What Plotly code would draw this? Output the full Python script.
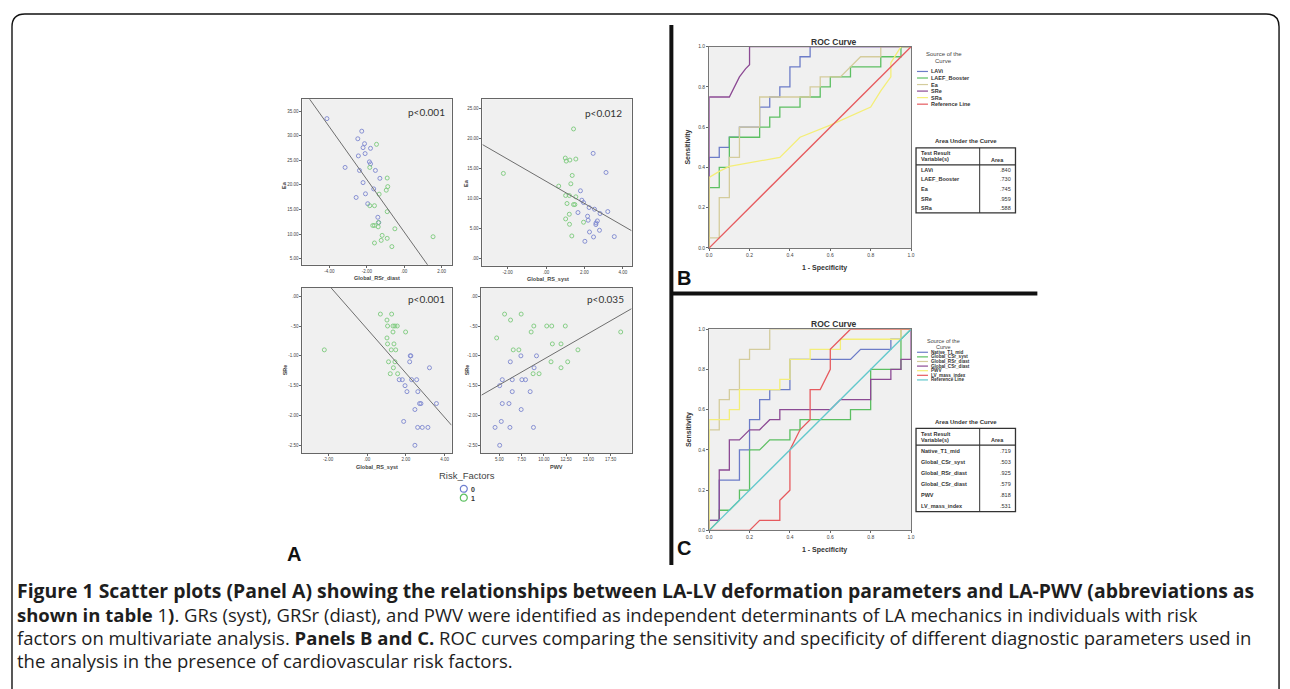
import plotly.graph_objects as go

# The page body has an 8px margin; coordinates below are reference-picture pixels.
OFF = 8
W, H = 1290 - OFF, 689 - OFF

# ---------------- Panel A data ----------------
tl_blue_x = [-4.13, -2.27, -2.48, -2.12, -2.20, -1.80, -2.09, -2.45, -1.86, -1.80, -3.16, -2.39, -1.54, -1.30, -2.20, -1.63, -2.07, -2.57, -1.95, -1.41, -1.36]
tl_blue_y = [33.46, 30.91, 29.37, 28.37, 27.57, 27.43, 26.36, 25.89, 24.68, 24.28, 23.55, 22.94, 22.94, 21.34, 20.47, 19.19, 18.19, 17.45, 16.18, 13.43, 12.36]
tl_green_x = [-1.48, -1.84, -0.91, -0.88, -0.96, -1.34, -1.84, -1.59, -0.91, -1.38, -1.68, -1.59, -1.39, -0.50, -1.18, 1.54, -0.91, -1.23, -1.59, -0.66]
tl_green_y = [28.24, 23.55, 21.40, 19.66, 18.93, 18.12, 15.78, 15.78, 14.57, 12.36, 11.76, 11.76, 11.49, 11.09, 9.75, 9.48, 9.15, 8.74, 8.21, 7.47]

tr_green_x = [1.43, 1.00, 1.05, 1.24, 1.55, -2.22, 1.36, 1.29, 0.66, 1.02, 1.21, 1.55, 1.09, 1.43, 1.50, 1.21, 1.02, 1.22, 1.95, 1.34]
tr_green_y = [21.56, 16.72, 16.22, 16.39, 16.56, 14.17, 13.83, 12.44, 12.06, 10.50, 10.50, 10.28, 9.17, 9.00, 9.00, 7.39, 6.61, 5.72, 6.06, 3.78]
tr_blue_x = [2.45, 3.12, 1.79, 1.86, 1.95, 2.24, 2.52, 3.21, 1.66, 2.81, 2.16, 2.19, 2.67, 2.60, 2.59, 2.78, 2.26, 2.47, 3.55, 2.02]
tr_blue_y = [17.50, 14.33, 11.28, 9.72, 9.33, 8.50, 8.22, 7.83, 7.67, 7.50, 7.06, 6.39, 6.28, 5.94, 5.67, 4.72, 4.44, 3.61, 3.67, 2.89]

bl_green_x = [0.69, 1.27, 1.03, 1.06, 1.34, 1.44, 1.56, 1.34, 1.99, 1.03, 1.06, 1.39, 1.25, 1.48, -2.20, 1.11, 1.44, 1.36, 1.20, 1.58]
bl_green_y = [-0.30, -0.30, -0.40, -0.50, -0.50, -0.50, -0.50, -0.60, -0.60, -0.70, -0.80, -0.80, -0.90, -0.90, -0.90, -1.10, -1.10, -1.20, -1.30, -1.30]
bl_blue_x = [2.23, 2.26, 2.20, 3.22, 1.66, 1.82, 2.30, 2.56, 1.96, 2.06, 2.62, 2.71, 2.78, 3.58, 2.47, 1.89, 2.61, 2.85, 3.14, 2.47]
bl_blue_y = [-1.00, -1.00, -1.10, -1.20, -1.40, -1.40, -1.40, -1.40, -1.50, -1.60, -1.60, -1.80, -1.80, -1.80, -1.90, -2.10, -2.20, -2.20, -2.20, -2.50]

br_green_x = [5.59, 7.45, 6.26, 4.70, 8.87, 10.32, 10.88, 12.40, 8.57, 18.62, 10.95, 11.92, 6.56, 7.19, 13.82, 10.80, 12.67, 11.92, 8.79, 9.46]
br_green_y = [-0.30, -0.30, -0.40, -0.70, -0.50, -0.50, -0.50, -0.50, -0.60, -0.60, -0.80, -0.80, -0.90, -0.90, -0.90, -1.10, -1.10, -1.20, -1.30, -1.30]
br_blue_x = [7.42, 9.17, 6.23, 8.90, 5.33, 6.45, 7.53, 7.94, 5.04, 6.45, 8.46, 5.33, 6.08, 7.45, 5.22, 4.52, 6.19, 8.83, 5.04]
br_blue_y = [-1.00, -1.00, -1.10, -1.20, -1.40, -1.40, -1.40, -1.40, -1.50, -1.60, -1.60, -1.80, -1.80, -1.90, -2.10, -2.20, -2.20, -2.20, -2.50]

# fit lines: (intercept, slope)
tl_fit = (10.43, -5.34)
tr_fit = (12.86, -1.845)
bl_fit = (-0.547, -0.371)
br_fit = (-1.917, 0.0861)

p_labels = ["p<0.001", "p<0.012", "p<0.001", "p<0.035"]
x_titles = ["Global_RSr_diast", "Global_RS_syst", "Global_RS_syst", "PWV"]
y_titles = ["Ea", "Ea", "SRe", "SRe"]

tl_xticks = [-4, -2, 0, 2]
tl_xtext = ["-4.00", "-2.00", ".00", "2.00"]
tl_yticks = [5, 10, 15, 20, 25, 30, 35]
tl_ytext = ["5.00", "10.00", "15.00", "20.00", "25.00", "30.00", "35.00"]
rs_xticks = [-2, 0, 2, 4]
rs_xtext = ["-2.00", ".00", "2.00", "4.00"]
tr_yticks = [0, 5, 10, 15, 20, 25]
tr_ytext = [".00", "5.00", "10.00", "15.00", "20.00", "25.00"]
sre_yticks = [0, -0.5, -1.0, -1.5, -2.0, -2.5]
sre_ytext = [".00", "-.50", "-1.00", "-1.50", "-2.00", "-2.50"]
pwv_xticks = [5, 7.5, 10, 12.5, 15, 17.5]
pwv_xtext = ["5.00", "7.50", "10.00", "12.50", "15.00", "17.50"]

# ---------------- ROC data ----------------
roc_ticks = [0, 0.2, 0.4, 0.6, 0.8, 1.0]
roc_ticktext = ["0.0", "0.2", "0.4", "0.6", "0.8", "1.0"]

b_names = ["LAVi", "LAEF_Booster", "Ea", "SRe", "SRa", "Reference Line"]
b_auc = [".840", ".730", ".745", ".959", ".588"]
b_lavi_x = [0, 0, 0.05, 0.05, 0.1, 0.1, 0.15, 0.15, 0.25, 0.25, 0.3, 0.3, 0.35, 0.35, 0.4, 0.4, 0.45, 0.45, 0.5, 0.5, 1.0]
b_lavi_y = [0, 0.45, 0.45, 0.5, 0.5, 0.55, 0.55, 0.6, 0.6, 0.7, 0.7, 0.75, 0.75, 0.8, 0.8, 0.9, 0.9, 0.95, 0.95, 1.0, 1.0]
b_laef_x = [0, 0, 0.05, 0.05, 0.1, 0.1, 0.25, 0.25, 0.3, 0.3, 0.35, 0.35, 0.45, 0.45, 0.55, 0.55, 0.6, 0.6, 0.7, 0.7, 0.85, 0.85, 0.95, 0.95, 1.0]
b_laef_y = [0, 0.3, 0.3, 0.4, 0.4, 0.55, 0.55, 0.6, 0.6, 0.65, 0.65, 0.7, 0.7, 0.75, 0.75, 0.8, 0.8, 0.85, 0.85, 0.9, 0.9, 0.95, 0.95, 1.0, 1.0]
b_ea_x = [0, 0, 0.05, 0.05, 0.1, 0.1, 0.15, 0.15, 0.25, 0.25, 0.5, 0.5, 0.55, 0.55, 0.65, 0.7, 0.75, 0.85, 0.85, 1.0]
b_ea_y = [0, 0.05, 0.05, 0.25, 0.25, 0.45, 0.45, 0.6, 0.6, 0.75, 0.75, 0.8, 0.8, 0.85, 0.85, 0.9, 0.95, 0.95, 1.0, 1.0]
b_sre_x = [0, 0, 0.1, 0.15, 0.18, 0.2, 0.2, 1.0]
b_sre_y = [0, 0.75, 0.75, 0.85, 0.89, 0.91, 1.0, 1.0]
b_sra_x = [0, 0, 0.05, 0.1, 0.35, 0.45, 0.6, 0.8, 0.85, 0.9, 0.9, 0.95, 1.0]
b_sra_y = [0, 0.35, 0.38, 0.405, 0.45, 0.55, 0.61, 0.7, 0.78, 0.85, 0.92, 1.0, 1.0]
ref_x = [0, 1]
ref_y = [0, 1]

c_names = ["Native_T1_mid", "Global_CSr_syst", "Global_RSr_diast", "Global_CSr_diast", "PWV", "LV_mass_index", "Reference Line"]
c_auc = [".719", ".503", ".925", ".579", ".818", ".531"]
c_t1_x = [0, 0, 0.05, 0.05, 0.15, 0.15, 0.2, 0.2, 0.25, 0.25, 0.3, 0.3, 0.4, 0.4, 0.7, 0.75, 0.9, 0.9, 0.95, 0.95, 1.0]
c_t1_y = [0, 0.05, 0.05, 0.25, 0.25, 0.4, 0.4, 0.55, 0.55, 0.65, 0.65, 0.7, 0.7, 0.85, 0.85, 0.9, 0.9, 0.95, 0.95, 1.0, 1.0]
c_csys_x = [0, 0.05, 0.05, 0.1, 0.15, 0.15, 0.2, 0.2, 0.25, 0.3, 0.4, 0.4, 0.45, 0.45, 0.7, 0.7, 0.8, 0.8, 0.95, 0.95, 1.0]
c_csys_y = [0, 0.05, 0.1, 0.1, 0.15, 0.2, 0.2, 0.4, 0.4, 0.45, 0.45, 0.5, 0.5, 0.55, 0.55, 0.6, 0.6, 0.8, 0.8, 0.95, 1.0]
c_rsr_x = [0, 0, 0.05, 0.05, 0.1, 0.1, 0.15, 0.15, 0.2, 0.2, 0.3, 0.3, 1.0]
c_rsr_y = [0, 0.5, 0.5, 0.65, 0.65, 0.7, 0.7, 0.85, 0.85, 0.9, 0.9, 1.0, 1.0]
c_cdia_x = [0, 0, 0.05, 0.05, 0.1, 0.1, 0.15, 0.2, 0.25, 0.3, 0.35, 0.35, 0.6, 0.65, 0.8, 0.8, 0.9, 0.9, 0.95, 0.95, 1.0, 1.0]
c_cdia_y = [0, 0.05, 0.05, 0.3, 0.3, 0.45, 0.45, 0.5, 0.5, 0.55, 0.55, 0.6, 0.6, 0.65, 0.65, 0.75, 0.75, 0.8, 0.8, 0.85, 0.85, 1.0]
c_pwv_x = [0, 0, 0.1, 0.1, 0.15, 0.15, 0.35, 0.35, 0.4, 0.4, 0.5, 0.5, 0.65, 0.65, 0.95, 0.95, 1.0]
c_pwv_y = [0, 0.55, 0.55, 0.6, 0.6, 0.7, 0.7, 0.75, 0.75, 0.85, 0.85, 0.9, 0.9, 0.95, 0.95, 1.0, 1.0]
c_lvm_x = [0, 0.2, 0.25, 0.35, 0.35, 0.4, 0.4, 0.45, 0.5, 0.5, 0.55, 0.6, 0.6, 0.65, 0.7, 1.0]
c_lvm_y = [0, 0, 0.05, 0.05, 0.15, 0.2, 0.4, 0.5, 0.55, 0.7, 0.7, 0.8, 0.9, 0.95, 1.0, 1.0]

caption_lines = [
    "<b>Figure 1 Scatter plots (Panel A) showing the relationships between LA-LV deformation parameters and LA-PWV (abbreviations as</b>",
    "<b>shown in table</b> 1<b>)</b>. GRs (syst), GRSr (diast), and PWV were identified as independent determinants of LA mechanics in individuals with risk",
    "factors on multivariate analysis. <b>Panels B and C.</b> ROC curves comparing the sensitivity and specificity of different diagnostic parameters used in",
    "the analysis in the presence of cardiovascular risk factors.",
]

# ---------------- colours ----------------
C_BLUE_PT = "#7d87cf"
C_GREEN_PT = "#7cc97c"
SP_BLUE = "#6c7cc8"
SP_GREEN = "#5cbf62"
SP_BEIGE = "#d4cc9c"
SP_PURPLE = "#8c4a94"
SP_YELLOW = "#f4ee78"
SP_RED = "#e65a5e"
SP_CYAN = "#62c8cc"


def PX(x):
    return (x - OFF) / W


def PY(y):
    return 1 - (y - OFF) / H


fig = go.Figure()
annotations = []
shapes = []


def txt(x, y, s, size, color="#333", family="Liberation Sans", xanchor="left", yanchor="middle", angle=0):
    annotations.append(dict(x=PX(x), y=PY(y), xref="paper", yref="paper", text=s, showarrow=False,
                            font=dict(size=size, color=color, family=family), xanchor=xanchor,
                            yanchor=yanchor, textangle=angle))


def line(x0, y0, x1, y1, color="black", width=1):
    shapes.append(dict(type="line", xref="paper", yref="paper", x0=PX(x0), y0=PY(y0), x1=PX(x1), y1=PY(y1),
                       line=dict(color=color, width=width)))


# ---------------- scatter panels ----------------
scatter_panels = [
    ("x", "y", tl_blue_x, tl_blue_y, tl_green_x, tl_green_y, tl_fit),
    ("x2", "y2", tr_blue_x, tr_blue_y, tr_green_x, tr_green_y, tr_fit),
    ("x3", "y3", bl_blue_x, bl_blue_y, bl_green_x, bl_green_y, bl_fit),
    ("x4", "y4", br_blue_x, br_blue_y, br_green_x, br_green_y, br_fit),
]
x_ranges = [[-5.44, 2.53], [-3.31, 4.45], [-3.33, 4.36], [2.99, 19.84]]
y_ranges = [[3.79, 37.4], [-1.17, 26.5], [-2.63, 0.145], [-2.63, 0.145]]
boxes = [(301, 451, 97, 264), (482, 632, 97, 265), (301, 451, 287, 454), (481, 632, 287, 454)]
xtick_sets = [(tl_xticks, tl_xtext), (rs_xticks, rs_xtext), (rs_xticks, rs_xtext), (pwv_xticks, pwv_xtext)]
ytick_sets = [(tl_yticks, tl_ytext), (tr_yticks, tr_ytext), (sre_yticks, sre_ytext), (sre_yticks, sre_ytext)]

for i, (xa, ya, bx, by, gx, gy, fit) in enumerate(scatter_panels):
    fig.add_trace(go.Scatter(x=bx, y=by, xaxis=xa, yaxis=ya, mode="markers", showlegend=False,
                             marker=dict(symbol="circle-open", size=4, color=C_BLUE_PT, line=dict(width=0.9))))
    fig.add_trace(go.Scatter(x=gx, y=gy, xaxis=xa, yaxis=ya, mode="markers", showlegend=False,
                             marker=dict(symbol="circle-open", size=4, color=C_GREEN_PT, line=dict(width=0.9))))
    xr = x_ranges[i]
    fx = [xr[0], xr[1]]
    fy = [fit[0] + fit[1] * v for v in fx]
    fig.add_trace(go.Scatter(x=fx, y=fy, xaxis=xa, yaxis=ya, mode="lines", showlegend=False,
                             line=dict(color="#6e6e6e", width=1)))

# ---------------- ROC panels ----------------
roc_b = [(b_lavi_x, b_lavi_y, SP_BLUE), (b_laef_x, b_laef_y, SP_GREEN), (b_ea_x, b_ea_y, SP_BEIGE),
         (b_sre_x, b_sre_y, SP_PURPLE), (b_sra_x, b_sra_y, SP_YELLOW), (ref_x, ref_y, SP_RED)]
roc_c = [(c_t1_x, c_t1_y, SP_BLUE), (c_csys_x, c_csys_y, SP_GREEN), (c_rsr_x, c_rsr_y, SP_BEIGE),
         (c_cdia_x, c_cdia_y, SP_PURPLE), (c_pwv_x, c_pwv_y, SP_YELLOW), (c_lvm_x, c_lvm_y, SP_RED),
         (ref_x, ref_y, SP_CYAN)]
for (xs, ys, col) in roc_b:
    fig.add_trace(go.Scatter(x=xs, y=ys, xaxis="x5", yaxis="y5", mode="lines", showlegend=False,
                             line=dict(color=col, width=1.3)))
for (xs, ys, col) in roc_c:
    fig.add_trace(go.Scatter(x=xs, y=ys, xaxis="x6", yaxis="y6", mode="lines", showlegend=False,
                             line=dict(color=col, width=1.3)))

axis_common = dict(showgrid=False, zeroline=False, showline=True, mirror=True, linecolor="#666",
                   linewidth=1, ticks="outside", ticklen=2, tickwidth=1, tickcolor="#666",
                   tickfont=dict(size=4.5, color="#444", family="Liberation Sans"))
layout_axes = {}
names = [("xaxis", "yaxis"), ("xaxis2", "yaxis2"), ("xaxis3", "yaxis3"), ("xaxis4", "yaxis4")]
anchors = [("y", "x"), ("y2", "x2"), ("y3", "x3"), ("y4", "x4")]
for i in range(4):
    l, r, t, b = boxes[i]
    layout_axes[names[i][0]] = dict(axis_common, domain=[PX(l), PX(r)], range=x_ranges[i], anchor=anchors[i][0],
                                    tickmode="array", tickvals=xtick_sets[i][0], ticktext=xtick_sets[i][1])
    layout_axes[names[i][1]] = dict(axis_common, domain=[PY(b), PY(t)], range=y_ranges[i], anchor=anchors[i][1],
                                    tickmode="array", tickvals=ytick_sets[i][0], ticktext=ytick_sets[i][1])

roc_axis = dict(axis_common, range=[0, 1], tickmode="array", tickvals=roc_ticks, ticktext=roc_ticktext,
                tickfont=dict(size=5, color="#444", family="Liberation Sans"), linecolor="#777")
layout_axes["xaxis5"] = dict(roc_axis, domain=[PX(710), PX(913)], anchor="y5")
layout_axes["yaxis5"] = dict(roc_axis, domain=[PY(247), PY(44)], anchor="x5")
layout_axes["xaxis6"] = dict(roc_axis, domain=[PX(710), PX(913)], anchor="y6")
layout_axes["yaxis6"] = dict(roc_axis, domain=[PY(532), PY(329)], anchor="x6")

# ---------------- scatter texts ----------------
p_pos = [(426, 110), (604, 111), (426, 299), (606, 299)]
xt_pos = [(376, 277), (548, 278), (376, 468), (556, 468)]
yt_pos = [(283, 183), (466, 181), (283, 370), (466, 370)]
for i in range(4):
    txt(p_pos[i][0], p_pos[i][1], p_labels[i], 10, color="#333", family="Lato", xanchor="center")
    txt(xt_pos[i][0], xt_pos[i][1], "<b>" + x_titles[i] + "</b>", 5.5, color="#444", xanchor="center")
    txt(yt_pos[i][0], yt_pos[i][1], "<b>" + y_titles[i] + "</b>", 5.5, color="#444", xanchor="center", angle=-90)

# legend of panel A
txt(467, 477, "Risk_Factors", 9.5, color="#444", xanchor="center")
risk_levels = ["0", "1"]
risk_cols = ["#6f7fd0", "#5cc060"]
for k, (lv, col) in enumerate(zip(risk_levels, risk_cols)):
    cy = 490 + 9 * k
    shapes.append(dict(type="circle", xref="paper", yref="paper", x0=PX(459.8), x1=PX(466.8),
                       y0=PY(cy + 3.5), y1=PY(cy - 3.5), line=dict(color=col, width=1.2)))
    txt(468.5, cy + 0.5, "<b>" + lv + "</b>", 7, color="#333")

# panel letters
txt(284, 556, "<b>A</b>", 20, color="#111", family="Liberation Sans")
txt(676, 277, "<b>B</b>", 20, color="#111", family="Liberation Sans")
txt(676, 550, "<b>C</b>", 20, color="#111", family="Liberation Sans")

# ---------------- ROC texts ----------------
for (top, bot) in [(44, 247), (329, 532)]:
    txt(836, top - 5, "<b>ROC Curve</b>", 8.5, color="#333", xanchor="center", yanchor="middle")
    txt(689, (top + bot) / 2, "<b>Sensitivity</b>", 7, color="#333", xanchor="center", angle=-90)
    txt(826, bot + 20, "<b>1 - Specificity</b>", 7, color="#333", xanchor="center")

# legend B
txt(946, 51.7, "Source of the", 6, color="#444", xanchor="center")
txt(946, 58.7, "Curve", 6, color="#444", xanchor="center")
b_cols = [SP_BLUE, SP_GREEN, SP_BEIGE, SP_PURPLE, SP_YELLOW, SP_RED]
for k, (nm, col) in enumerate(zip(b_names, b_cols)):
    yy = 69 + 6.6 * k
    line(919, yy, 930, yy, color=col, width=1.2)
    txt(931, yy, "<b>" + nm + "</b>", 5.5, color="#333")

# legend C
txt(946, 341, "Source of the", 5.5, color="#444", xanchor="center")
txt(946, 346.5, "Curve", 5.5, color="#444", xanchor="center")
c_cols = [SP_BLUE, SP_GREEN, SP_BEIGE, SP_PURPLE, SP_YELLOW, SP_RED, SP_CYAN]
for k, (nm, col) in enumerate(zip(c_names, c_cols)):
    yy = 352.3 + 4.65 * k
    line(919, yy, 930, yy, color=col, width=1.2)
    txt(931, yy, "<b>" + nm + "</b>", 4.6, color="#333")


# AUC tables
def auc_table(title_y, top, hdr_bottom, bottom, rows, vals, fs):
    txt(968, title_y, "<b>Area Under the Curve</b>", 6, color="#333", xanchor="center")
    shapes.append(dict(type="rect", xref="paper", yref="paper", x0=PX(918), x1=PX(1018), y0=PY(bottom), y1=PY(top),
                       line=dict(color="#333", width=1.3)))
    line(918, hdr_bottom, 1018, hdr_bottom, color="#333", width=1.3)
    line(982, top, 982, bottom, color="#333", width=1)
    txt(921, top + (hdr_bottom - top) * 0.33, "<b>Test Result</b>", fs, color="#333")
    txt(921, top + (hdr_bottom - top) * 0.68, "<b>Variable(s)</b>", fs, color="#333")
    txt(1000, top + (hdr_bottom - top) * 0.72, "<b>Area</b>", fs, color="#333", xanchor="center")
    step = (bottom - hdr_bottom) / len(rows)
    for k, (nm, v) in enumerate(zip(rows, vals)):
        yy = hdr_bottom + step * (k + 0.5)
        txt(921, yy, "<b>" + nm + "</b>", fs, color="#333")
        txt(1016, yy, v, fs, color="#333", xanchor="right")


auc_table(139, 146, 163.3, 211.7, b_names[:5], b_auc, 5.5)
auc_table(423, 429, 446, 513, c_names[:6], c_auc, 5.5)


# ---------------- frame and separators ----------------
def pp(x, y):
    return "%f,%f" % (PX(x), PY(y))


shapes.append(dict(type="path", xref="paper", yref="paper",
                   path="M %s L %s Q %s %s L %s Q %s %s L %s" % (pp(9, 700), pp(9, 24), pp(9, 11), pp(22, 11),
                                                                pp(1270, 11), pp(1283, 11), pp(1283, 24), pp(1283, 700)),
                   line=dict(color="#111", width=1.4)))
line(672, 22, 672, 567, color="#111", width=4)
line(672, 293, 1040, 293, color="#111", width=4)

# ---------------- caption ----------------
cap_y = [593, 616.5, 640, 663.5]
cap_size = [19.4, 18.5, 18.5, 18.5]
for s, yy, fs in zip(caption_lines, cap_y, cap_size):
    txt(12, yy, s, fs, color="#1e1e1e", family="Open Sans")

fig.update_layout(width=W, height=H, margin=dict(l=0, r=0, t=0, b=0), paper_bgcolor="white",
                  plot_bgcolor="#f0f0f0", showlegend=False, annotations=annotations, shapes=shapes,
                  **layout_axes)

fig.write_html("out.html")
